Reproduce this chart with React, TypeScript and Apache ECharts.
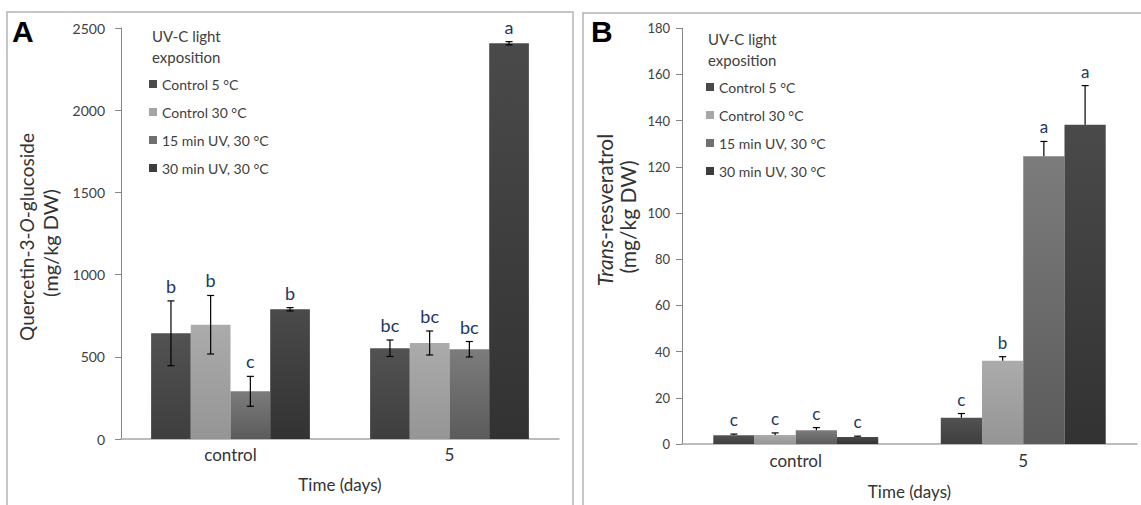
import React, { useEffect, useRef } from "react";
import * as echarts from "echarts";

// ---------- data ----------
const categories = ["control", "5"];
const seriesNames = ["Control 5 °C", "Control 30 °C", "15 min UV, 30 °C", "30 min UV, 30 °C"];

// Panel A: Quercetin-3-O-glucoside (mg/kg DW), per series: [control, day 5]
const quercetinValues = [
  [643, 552],
  [695, 584],
  [290, 546],
  [789, 2407],
];
const quercetinErrors = [
  [197, 50],
  [178, 73],
  [91, 47],
  [10, 10],
];
const quercetinLetters = [
  ["b", "bc"],
  ["b", "bc"],
  ["c", "bc"],
  ["b", "a"],
];
const quercetinAxis = { min: 0, max: 2500, interval: 500 };

// Panel B: Trans-resveratrol (mg/kg DW)
const resveratrolValues = [
  [3.8, 11.4],
  [3.9, 36.0],
  [5.9, 124.6],
  [3.0, 138.2],
];
const resveratrolErrors = [
  [0.5, 1.8],
  [0.9, 1.8],
  [1.2, 6.4],
  [0.4, 17],
];
const resveratrolLetters = [
  ["c", "c"],
  ["c", "b"],
  ["c", "a"],
  ["c", "a"],
];
const resveratrolAxis = { min: 0, max: 180, interval: 20 };

// ---------- styles ----------
const FONT = 'Lato, "Noto Sans", sans-serif';
const TEXT = "#333333";
const LETTER = "#203864";
const BAR_GAP_CAT = 0.275;
const barGradients = [
  ["#525252", "#3e3e3e"],
  ["#ababab", "#959595"],
  ["#7c7c7c", "#5b5b5b"],
  ["#4a4a4a", "#323232"],
];
const legendColors = ["#4a4a4a", "#a6a6a6", "#707070", "#3c3c3c"];

function grad(i: number) {
  return new echarts.graphic.LinearGradient(0, 0, 0, 1, [
    { offset: 0, color: barGradients[i][0] },
    { offset: 1, color: barGradients[i][1] },
  ]);
}

function makeErrorSeries(
  values: number[][],
  errors: number[][],
  letters: string[][],
  axisIndex: number,
  bothSides: boolean,
  letterSize: number
) {
  const data: number[][] = [];
  const labels: string[] = [];
  for (let s = 0; s < values.length; s++) {
    for (let c = 0; c < categories.length; c++) {
      data.push([c, s, values[s][c], errors[s][c]]);
      labels.push(letters[s][c]);
    }
  }
  return {
    type: "custom",
    xAxisIndex: axisIndex,
    yAxisIndex: axisIndex,
    z: 10,
    silent: true,
    encode: { x: 0, y: 2 },
    data,
    renderItem: (params: any, api: any) => {
      const c = api.value(0);
      const s = api.value(1);
      const v = api.value(2);
      const e = api.value(3);
      const band = api.size([1, 0])[0];
      const bw = (band * (1 - BAR_GAP_CAT)) / 4;
      const center = api.coord([c, v]);
      const x = center[0] + (s - 1.5) * bw;
      const yTop = api.coord([c, v + e])[1];
      const yBot = bothSides ? api.coord([c, v - e])[1] : center[1];
      const cap = 3.5;
      const ls = { stroke: "#000", lineWidth: 1.2 };
      const children: any[] = [
        { type: "line", shape: { x1: x, y1: yTop, x2: x, y2: yBot }, style: ls },
        { type: "line", shape: { x1: x - cap, y1: yTop, x2: x + cap, y2: yTop }, style: ls },
      ];
      if (bothSides) {
        children.push({ type: "line", shape: { x1: x - cap, y1: yBot, x2: x + cap, y2: yBot }, style: ls });
      }
      children.push({
        type: "text",
        x,
        y: yTop - 6,
        style: {
          text: labels[params.dataIndex],
          fill: LETTER,
          font: `${letterSize}px ${FONT}`,
          align: "center",
          verticalAlign: "bottom",
        },
      });
      return { type: "group", children };
    },
  };
}

export default function App() {
  const ref = useRef<HTMLDivElement>(null);

  useEffect(() => {
    document.body.style.margin = "0";
    if (!ref.current) return;
    const chart = echarts.init(ref.current, undefined, { renderer: "svg" });

    const xAxisCommon = (gridIndex: number, labelMargin: number, nameGap: number) => ({
      type: "category",
      gridIndex,
      data: categories,
      axisTick: { show: false },
      axisLine: { lineStyle: { color: "#a6a6a6", width: 1.5 } },
      axisLabel: { fontSize: 17, color: TEXT, fontFamily: FONT, margin: labelMargin },
      name: "Time (days)",
      nameLocation: "middle",
      nameGap,
      nameTextStyle: { fontSize: 17, color: TEXT, fontFamily: FONT },
    });
    const yAxisCommon = (gridIndex: number, ax: any, fontSize: number, margin: number) => ({
      type: "value",
      gridIndex,
      min: ax.min,
      max: ax.max,
      interval: ax.interval,
      splitLine: { show: false },
      axisLine: { show: true, lineStyle: { color: "#868686", width: 1 } },
      axisTick: { show: true, length: 6, lineStyle: { color: "#868686" } },
      axisLabel: {
        fontSize,
        color: "#404040",
        fontFamily: FONT,
        margin,
        formatter: (v: number) => String(v),
      },
    });

    const barSeries: any[] = [];
    seriesNames.forEach((name, i) => {
      barSeries.push({
        type: "bar",
        name,
        xAxisIndex: 0,
        yAxisIndex: 0,
        data: quercetinValues[i],
        barGap: "0%",
        barCategoryGap: `${BAR_GAP_CAT * 100}%`,
        itemStyle: { color: grad(i) },
      });
    });
    seriesNames.forEach((name, i) => {
      barSeries.push({
        type: "bar",
        name,
        xAxisIndex: 1,
        yAxisIndex: 1,
        data: resveratrolValues[i],
        barGap: "0%",
        barCategoryGap: `${BAR_GAP_CAT * 100}%`,
        itemStyle: { color: grad(i) },
      });
    });

    const legendCommon = (left: number, top: number) => ({
      orient: "vertical",
      left,
      top,
      padding: 0,
      icon: "rect",
      itemWidth: 8,
      itemHeight: 8,
      itemGap: 14,
      selectedMode: false,
      data: seriesNames.map((n, i) => ({ name: n, itemStyle: { color: legendColors[i] } })),
      textStyle: { fontSize: 14, lineHeight: 14, color: "#404040", fontFamily: FONT },
    });

    const titleText = (x: number, y: number, size: number, text: string, rich?: any) => ({
      type: "text",
      x,
      y,
      rotation: Math.PI / 2,
      style: {
        text,
        fill: TEXT,
        font: `${size}px ${FONT}`,
        align: "center",
        verticalAlign: "middle",
        rich,
      },
    });

    const italicRich = (size: number) => ({
      i: { fontStyle: "italic", fontSize: size, fontFamily: FONT, fill: TEXT },
      n: { fontSize: size, fontFamily: FONT, fill: TEXT },
    });

    chart.setOption({
      animation: false,
      backgroundColor: "#ffffff",
      grid: [
        { left: 121, top: 28, width: 438, height: 411 },
        { left: 682, top: 28.3, width: 455, height: 417.4 },
      ],
      xAxis: [xAxisCommon(0, 7, 37), xAxisCommon(1, 8, 39)],
      yAxis: [yAxisCommon(0, quercetinAxis, 14, 16), yAxisCommon(1, resveratrolAxis, 13, 12)],
      legend: [legendCommon(149, 77), legendCommon(706, 80)],
      series: [
        ...barSeries,
        makeErrorSeries(quercetinValues, quercetinErrors, quercetinLetters, 0, true, 18),
        makeErrorSeries(resveratrolValues, resveratrolErrors, resveratrolLetters, 1, false, 17),
      ],
      graphic: [
        { type: "rect", shape: { x: 7, y: 12, width: 566, height: 520 }, style: { fill: "none", stroke: "#b4b4b4", lineWidth: 1.5 }, silent: true },
        { type: "rect", shape: { x: 583, y: 13, width: 580, height: 520 }, style: { fill: "none", stroke: "#b4b4b4", lineWidth: 1.5 }, silent: true },
        { type: "text", x: 12, y: 31, style: { text: "A", font: 'bold 30px "Liberation Sans", Arial, sans-serif', fill: "#000", align: "left", verticalAlign: "middle" } },
        { type: "text", x: 591, y: 31, style: { text: "B", font: 'bold 30px "Liberation Sans", Arial, sans-serif', fill: "#000", align: "left", verticalAlign: "middle" } },
        { type: "text", x: 152, y: 46, style: { text: "UV-C light\nexposition", font: `15px ${FONT}`, lineHeight: 21, fill: "#404040", align: "left", verticalAlign: "middle" } },
        { type: "text", x: 708, y: 49, style: { text: "UV-C light\nexposition", font: `15px ${FONT}`, lineHeight: 21, fill: "#404040", align: "left", verticalAlign: "middle" } },
        titleText(26, 237, 19, "{n|Quercetin-3-}{i|O}{n|-glucoside}", italicRich(19)),
        titleText(50, 243, 20, "(mg/kg DW)"),
        titleText(604, 210, 21, "{i|Trans}{n|-resveratrol}", italicRich(21)),
        titleText(627, 217, 21, "(mg/kg DW)"),
      ],
    });

    return () => chart.dispose();
  }, []);

  return <div ref={ref} style={{ width: 1141, height: 505 }} />;
}
